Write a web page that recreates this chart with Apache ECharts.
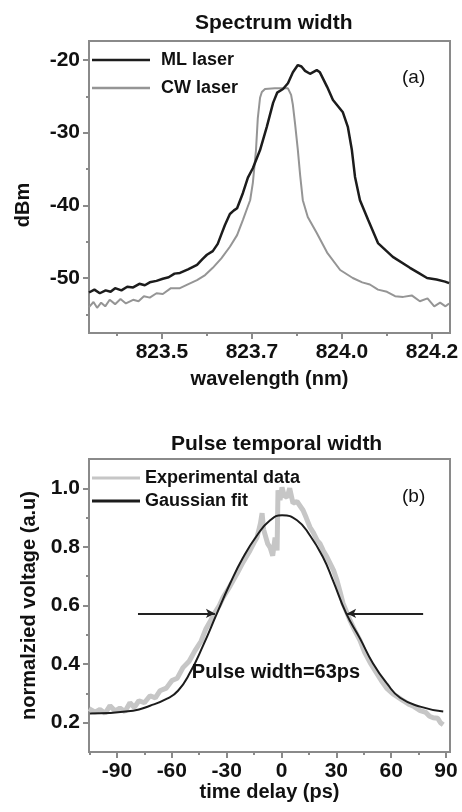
<!DOCTYPE html>
<html>
<head>
<meta charset="utf-8">
<script src="https://cdn.jsdelivr.net/npm/echarts@6/dist/echarts.min.js"></script>
<style>
  html, body { margin: 0; padding: 0; background: #fff; }
  #chart { width: 462px; height: 812px; }
</style>
</head>
<body>
<div id="chart"></div>
<script>
// panel (a): spectrum, [wavelength, dBm]
var mlLaser = [[823.338,-52.0],[823.350,-51.6],[823.362,-52.1],[823.375,-51.7],[823.386,-51.9],[823.396,-51.4],[823.410,-51.7],[823.423,-51.2],[823.436,-51.3],[823.450,-50.8],[823.462,-51.0],[823.473,-50.6],[823.488,-50.4],[823.502,-50.1],[823.515,-49.9],[823.528,-49.4],[823.540,-49.3],[823.558,-48.8],[823.578,-48.2],[823.590,-47.4],[823.600,-46.8],[823.613,-46.3],[823.624,-45.3],[823.632,-44.0],[823.640,-42.7],[823.651,-41.2],[823.660,-40.7],[823.667,-40.4],[823.680,-38.3],[823.691,-36.2],[823.702,-34.9],[823.718,-32.4],[823.733,-29.2],[823.747,-25.9],[823.756,-24.5],[823.769,-24.0],[823.780,-23.2],[823.791,-21.7],[823.802,-20.7],[823.810,-20.9],[823.818,-21.5],[823.829,-21.9],[823.844,-21.4],[823.851,-21.7],[823.867,-23.7],[823.880,-25.5],[823.902,-27.2],[823.913,-29.2],[823.922,-32.4],[823.929,-36.1],[823.940,-39.3],[823.958,-42.0],[823.980,-45.2],[824.013,-47.1],[824.051,-48.6],[824.070,-49.3],[824.089,-50.0],[824.110,-50.2],[824.129,-50.5],[824.138,-50.7]];
var cwLaser = [[823.338,-54.0],[823.348,-53.3],[823.356,-54.1],[823.365,-53.4],[823.374,-53.9],[823.384,-53.0],[823.396,-53.6],[823.408,-52.9],[823.420,-53.5],[823.436,-53.0],[823.448,-53.2],[823.460,-52.5],[823.473,-52.7],[823.488,-52.1],[823.502,-52.2],[823.520,-51.4],[823.540,-51.4],[823.560,-50.8],[823.578,-50.3],[823.596,-49.6],[823.613,-48.6],[823.632,-47.3],[823.651,-45.7],[823.667,-44.1],[823.680,-42.0],[823.690,-40.3],[823.696,-39.3],[823.702,-36.9],[823.709,-32.4],[823.713,-28.0],[823.718,-25.2],[823.722,-24.4],[823.729,-24.0],[823.751,-23.9],[823.780,-23.9],[823.787,-24.8],[823.791,-26.2],[823.796,-28.9],[823.802,-32.4],[823.807,-35.8],[823.813,-39.3],[823.824,-41.6],[823.844,-43.8],[823.867,-46.5],[823.896,-48.9],[823.924,-50.0],[823.945,-50.6],[823.962,-50.9],[823.980,-51.6],[824.000,-51.9],[824.018,-52.5],[824.036,-52.6],[824.055,-52.4],[824.073,-53.2],[824.090,-52.8],[824.105,-53.9],[824.118,-53.4],[824.130,-53.9],[824.138,-53.5]];
var specTicks = [823.5, 823.7, 823.9, 824.1];
var specTickLabels = ['823.5', '823.7', '824.0', '824.2'];
var specMinor = [823.4, 823.6, 823.8, 824.0];
var dbmTicks = [-50, -40, -30, -20];
var dbmMinor = [-55, -45, -35, -25];

// panel (b): pulse, [delay ps, normalized voltage]
var experimental = [[-105.3,0.248],[-102,0.236],[-99.3,0.245],[-96.5,0.232],[-93.8,0.258],[-91,0.240],[-88.4,0.250],[-85.6,0.238],[-82.9,0.268],[-80.5,0.252],[-78.0,0.275],[-75,0.268],[-71.9,0.292],[-69,0.285],[-66.5,0.309],[-63,0.318],[-59.9,0.344],[-57,0.352],[-53.9,0.388],[-50.5,0.410],[-47.3,0.446],[-44,0.478],[-41.3,0.521],[-38.8,0.548],[-36.4,0.576],[-34,0.600],[-32.0,0.627],[-28,0.668],[-24.3,0.709],[-21,0.748],[-17.2,0.788],[-15,0.815],[-13.4,0.832],[-11.5,0.880],[-10.6,0.915],[-9.8,0.860],[-9.0,0.856],[-7.5,0.810],[-6.2,0.798],[-4.8,0.770],[-3.5,0.832],[-2.4,0.788],[-1.9,0.993],[-0.8,0.960],[0.3,1.003],[1.5,0.975],[3.1,0.969],[4.5,1.000],[6.3,0.949],[8.5,0.955],[11.8,0.925],[13.5,0.900],[15.6,0.867],[17.5,0.848],[19.5,0.822],[21,0.812],[22.8,0.788],[24.5,0.770],[26.6,0.744],[28.5,0.720],[30.4,0.685],[32,0.648],[33.7,0.607],[35.5,0.580],[37.5,0.549],[40,0.516],[43.0,0.480],[45.5,0.440],[48.5,0.405],[52,0.370],[54.5,0.345],[57.8,0.316],[61,0.298],[63.5,0.288],[66.6,0.275],[70,0.262],[72.5,0.255],[75.9,0.241],[79,0.235],[81,0.222],[83.0,0.217],[85.5,0.215],[87,0.200],[88.5,0.193]];
var gaussFit = [[-104.8,0.231],[-81.2,0.241],[-71.9,0.258],[-62.6,0.282],[-56.6,0.309],[-50.0,0.371],[-42.9,0.463],[-35.3,0.573],[-28.1,0.675],[-21.0,0.764],[-13.4,0.839],[-6.2,0.891],[0.3,0.908],[8.5,0.891],[15.6,0.839],[22.8,0.764],[28.2,0.685],[35.4,0.573],[43.0,0.487],[50.1,0.402],[57.8,0.333],[64.9,0.285],[75.9,0.255],[88.5,0.238]];
var delayTicks = [-90, -60, -30, 0, 30, 60, 90];
var delayMinor = [-105, -75, -45, -15, 15, 45, 75];
var voltTicks = [0.2, 0.4, 0.6, 0.8, 1.0];
var voltMinor = [0.3, 0.5, 0.7, 0.9];
var arrowLevel = 0.573;
var arrowLeft = [-78.5, -36.4];
var arrowRight = [77.5, 35.9];
var pulseLabelAt = [-3, 0.371];

var FONT = 'Liberation Sans, Arial, sans-serif';
var frame = '#8a8a8a';
var ink = '#111';

function mainAxis(grid, pos, min, max, ticks, fmt, name, gap, extra) {
    var ax = {
        gridIndex: grid, position: pos, type: 'value', min: min, max: max,
        axisLine: { onZero: false, lineStyle: { color: frame, width: 2 } },
        axisTick: { customValues: ticks, length: 6, lineStyle: { color: frame, width: 2 } },
        axisLabel: { customValues: ticks, formatter: fmt, color: ink, fontSize: 21, fontWeight: 'bold', fontFamily: FONT, margin: 9 },
        splitLine: { show: false },
        name: name, nameLocation: 'middle', nameGap: gap,
        nameTextStyle: { color: ink, fontSize: 20, fontWeight: 'bold', fontFamily: FONT }
    };
    if (extra) Object.assign(ax.nameTextStyle, extra);
    return ax;
}
function minorAxis(grid, pos, min, max, ticks) {
    return {
        gridIndex: grid, position: pos, type: 'value', min: min, max: max,
        axisLine: { show: false, onZero: false },
        axisTick: { customValues: ticks, length: 3, lineStyle: { color: frame, width: 2 } },
        axisLabel: { show: false },
        splitLine: { show: false }
    };
}

option = {
    animation: false,
    backgroundColor: '#fff',
    title: [
        { text: 'Spectrum width', left: 190, top: 8, textStyle: { color: ink, fontSize: 21, fontWeight: 'bold', fontFamily: FONT } },
        { text: 'Pulse temporal width', left: 166, top: 429, textStyle: { color: ink, fontSize: 21, fontWeight: 'bold', fontFamily: FONT } },
        { text: '(a)', left: 397, top: 63, textStyle: { color: ink, fontSize: 19, fontWeight: 'normal', fontFamily: FONT } },
        { text: '(b)', left: 397, top: 482, textStyle: { color: ink, fontSize: 19, fontWeight: 'normal', fontFamily: FONT } }
    ],
    legend: [
        {
            data: ['ML laser', 'CW laser'], orient: 'vertical', left: 92, top: 51, padding: 0,
            icon: 'rect', itemWidth: 58, itemHeight: 2.5, itemGap: 10,
            textStyle: { color: ink, fontSize: 18, fontWeight: 'bold', fontFamily: FONT, lineHeight: 18, padding: [0, 0, 0, 6] }
        },
        {
            data: ['Experimental data', 'Gaussian fit'], orient: 'vertical', left: 92, top: 469, padding: 0,
            icon: 'rect', itemWidth: 48, itemHeight: 3, itemGap: 5,
            textStyle: { color: ink, fontSize: 18, fontWeight: 'bold', fontFamily: FONT, lineHeight: 18 }
        }
    ],
    grid: [
        { left: 89, top: 41, width: 361, height: 292, show: true, borderColor: frame, borderWidth: 2 },
        { left: 89, top: 459, width: 361, height: 293, show: true, borderColor: frame, borderWidth: 2 }
    ],
    xAxis: [
        mainAxis(0, 'bottom', 823.338, 824.14, specTicks, function (v) {
            var i = specTicks.findIndex(function (t) { return Math.abs(t - v) < 1e-6; });
            return i < 0 ? '' : specTickLabels[i];
        }, 'wavelength (nm)', 36),
        minorAxis(0, 'bottom', 823.338, 824.14, specMinor),
        mainAxis(1, 'bottom', -105.3, 92.2, delayTicks, function (v) { return String(Math.round(v)); }, 'time delay (ps)', 30),
        minorAxis(1, 'bottom', -105.3, 92.2, delayMinor)
    ],
    yAxis: [
        mainAxis(0, 'left', -57.57, -17.39, dbmTicks, function (v) { return String(Math.round(v)); }, 'dBm', 56, { padding: [0, 36, 0, 0] }),
        minorAxis(0, 'left', -57.57, -17.39, dbmMinor),
        mainAxis(1, 'left', 0.1, 1.1, voltTicks, function (v) { return v.toFixed(1); }, 'normalzied voltage (a.u)', 45),
        minorAxis(1, 'left', 0.1, 1.1, voltMinor)
    ],
    series: [
        {
            name: 'CW laser', type: 'line', xAxisIndex: 0, yAxisIndex: 0,
            data: cwLaser, symbol: 'none', color: '#959595',
            lineStyle: { color: '#959595', width: 2 }
        },
        {
            name: 'ML laser', type: 'line', xAxisIndex: 0, yAxisIndex: 0,
            data: mlLaser, symbol: 'none', color: '#1c1c1c',
            lineStyle: { color: '#1c1c1c', width: 2.5 }
        },
        {
            name: 'Experimental data', type: 'line', xAxisIndex: 2, yAxisIndex: 2,
            data: experimental, symbol: 'none', color: '#c6c6c6',
            lineStyle: { color: '#c6c6c6', width: 5 }
        },
        {
            name: 'Gaussian fit', type: 'line', xAxisIndex: 2, yAxisIndex: 2,
            data: gaussFit, symbol: 'none', smooth: true, color: '#1c1c1c',
            lineStyle: { color: '#1c1c1c', width: 2 },
            markLine: {
                silent: true, animation: false,
                symbol: ['none', 'arrow'], symbolSize: [7, 9],
                label: { show: false },
                lineStyle: { color: '#222', width: 2, type: 'solid' },
                data: [
                    [{ coord: [arrowLeft[0], arrowLevel] }, { coord: [arrowLeft[1], arrowLevel] }],
                    [{ coord: [arrowRight[0], arrowLevel] }, { coord: [arrowRight[1], arrowLevel] }]
                ]
            },
            markPoint: {
                silent: true, animation: false,
                symbol: 'rect', symbolSize: 1,
                itemStyle: { color: 'rgba(0,0,0,0)' },
                label: {
                    show: true, position: 'inside', formatter: 'Pulse width=63ps',
                    color: ink, fontSize: 20, fontWeight: 'bold', fontFamily: FONT
                },
                data: [{ coord: pulseLabelAt }]
            }
        }
    ]
};

var chart = echarts.init(document.getElementById('chart'));
chart.setOption(option);
</script>
</body>
</html>
